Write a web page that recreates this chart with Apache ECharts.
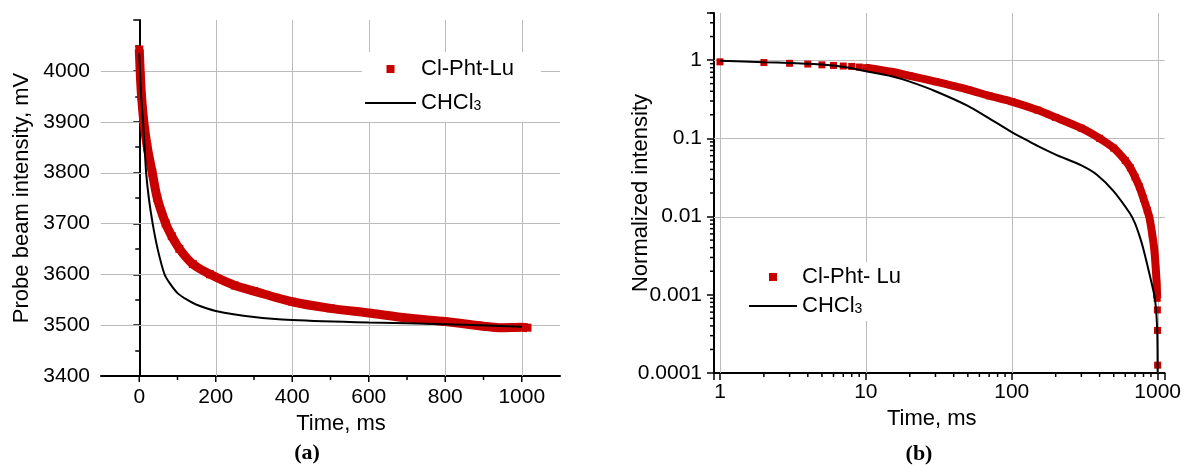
<!DOCTYPE html>
<html><head><meta charset="utf-8">
<script src="https://cdn.jsdelivr.net/npm/echarts@6/dist/echarts.min.js"></script>
<style>html,body{margin:0;padding:0;background:#fff}#c{width:1184px;height:465px}</style>
</head><body><div id="c"></div><script>
// ---------- Panel (a): probe beam intensity (linear axes) ----------
const timeRedA = [0, 3, 6, 12, 21, 34, 47, 69, 85, 105, 140, 185, 250, 300, 400, 500, 600, 700, 800, 900, 940, 1000, 1015];
const intensityRedA = [4042, 3990, 3950, 3900, 3850, 3800, 3750, 3700, 3675, 3650, 3620, 3600, 3578, 3567, 3546, 3533, 3524, 3514, 3507, 3498, 3495, 3496, 3495];
const timeBlackA = [0, 2, 5, 10, 14, 18, 25, 35, 48, 66, 80, 100, 125, 150, 200, 300, 400, 600, 800, 1000];
const intensityBlackA = [4035, 4000, 3950, 3900, 3850, 3800, 3750, 3700, 3650, 3600, 3582, 3563, 3550, 3540, 3528, 3516, 3510, 3505, 3502, 3497];
const gridXA = [200, 400, 600, 800, 1000];
const gridYA = [3500, 3600, 3700, 3800, 3900, 4000];
const majorTicksXA = [0, 200, 400, 600, 800, 1000];
const minorTicksXA = [100, 300, 500, 700, 900];

// ---------- Panel (b): normalized intensity (log-log axes) ----------
const timeRedBDots = [1, 2, 3, 4, 5, 6, 7, 8, 9];
const normRedBDots = [0.95, 0.93, 0.91, 0.89, 0.87, 0.855, 0.84, 0.83, 0.815];
const timeRedB = [10, 15, 20, 30, 50, 70, 100, 150, 200, 300, 400, 500, 600, 650, 700, 750, 800, 850, 880, 920, 950, 970, 985, 993];
const normRedB = [0.80, 0.71, 0.63, 0.53, 0.42, 0.35, 0.295, 0.23, 0.185, 0.135, 0.10, 0.075, 0.052, 0.042, 0.032, 0.024, 0.017, 0.012, 0.0095, 0.0058, 0.0037, 0.0022, 0.0014, 0.0009];
const timeRedBTail = [996, 998, 1000];
const normRedBTail = [0.00064, 0.00035, 0.000126];
const timeBlackB = [1, 2, 3, 5, 7, 10, 15, 20, 30, 50, 70, 100, 120, 150, 200, 300, 385, 500, 645, 700, 755, 800, 910, 960, 993, 1000];
const normBlackB = [0.98, 0.94, 0.92, 0.88, 0.82, 0.72, 0.62, 0.53, 0.40, 0.26, 0.18, 0.12, 0.10, 0.08, 0.062, 0.045, 0.034, 0.021, 0.011, 0.0082, 0.0055, 0.0038, 0.0014, 0.00087, 0.00035, 0.0001];
const gridXB = [1, 10, 100, 1000];
const gridYB = [0.01, 0.1, 1];
const minorTicksXB = [2, 3, 4, 5, 6, 7, 8, 9, 20, 30, 40, 50, 60, 70, 80, 90, 200, 300, 400, 500, 600, 700, 800, 900];
const minorTicksYB = [0.0002, 0.0003, 0.0004, 0.0005, 0.0006, 0.0007, 0.0008, 0.0009,
  0.002, 0.003, 0.004, 0.005, 0.006, 0.007, 0.008, 0.009,
  0.02, 0.03, 0.04, 0.05, 0.06, 0.07, 0.08, 0.09,
  0.2, 0.3, 0.4, 0.5, 0.6, 0.7, 0.8, 0.9, 2, 3, 4];

const A_X = [-100, 1100], A_Y = [3400, 4100];
const B_X = [0.91, 1116], B_Y = [0.0001, 4];

const FONT = '"Liberation Sans", Arial, sans-serif';
const RED = '#c80000';
const GRID_COLOR = '#bcbcbc';
const SQ = 'path://M0,0L10,0L10,10L0,10Z';
const BAR = 'path://M0,0L100,0L100,4L0,4Z';

const zip = (a, b) => a.map((v, i) => [v, b[i]]);

function segSeries(idx, data, fn, z) {
  return {
    type: 'custom', xAxisIndex: idx, yAxisIndex: idx, silent: true, z: z, clip: false,
    data: data,
    renderItem: function (params, api) {
      const s = fn(api);
      return { type: 'line', shape: { x1: s[0], y1: s[1], x2: s[2], y2: s[3] },
        style: { stroke: s[4], lineWidth: s[5] } };
    }
  };
}
const vGrid = (idx, xs, yr) => segSeries(idx, xs.map(v => [v, yr[0]]), api => {
  const a = api.coord([api.value(0), yr[0]]), b = api.coord([api.value(0), yr[1]]);
  const x = Math.round(a[0]) + 0.5;
  return [x, a[1], x, b[1], GRID_COLOR, 1];
}, 1);
const hGrid = (idx, ys, xr) => segSeries(idx, ys.map(v => [xr[0], v]), api => {
  const a = api.coord([xr[0], api.value(1)]), b = api.coord([xr[1], api.value(1)]);
  const y = Math.round(a[1]) + 0.5;
  return [a[0], y, b[0], y, GRID_COLOR, 1];
}, 1);
const xTicks = (idx, xs, y0, len) => segSeries(idx, xs.map(v => [v, y0]), api => {
  const a = api.coord([api.value(0), y0]);
  return [a[0], a[1], a[0], a[1] + len, '#000', 1.5];
}, 6);
const yTicks = (idx, ys, x0, len) => segSeries(idx, ys.map(v => [x0, v]), api => {
  const a = api.coord([x0, api.value(1)]);
  return [a[0], a[1], a[0] - len, a[1], '#000', 1.5];
}, 6);

function decadeFmt(v) {
  const l = Math.log10(v);
  if (Math.abs(l - Math.round(l)) > 1e-6) return '';
  return String(parseFloat(Math.pow(10, Math.round(l)).toPrecision(3)));
}

const axisBase = {
  axisLine: { lineStyle: { color: '#000', width: 2 } },
  splitLine: { show: false },
  nameLocation: 'middle',
};
const labelStyle = { color: '#000', fontSize: 21, fontFamily: FONT };
const nameStyle = { color: '#000', fontSize: 22, fontFamily: FONT };

const legendText = {
  color: '#000', fontSize: 22, fontFamily: FONT, lineHeight: 20,
  rich: { sub: { fontSize: 14, lineHeight: 2, verticalAlign: 'bottom', fontFamily: FONT, color: '#000' } }
};
const legendFmt = name => name === 'CHCl3' ? 'CHCl{sub|3}' : name;

const option = {
  animation: false,
  backgroundColor: '#fff',
  grid: [
    { left: 101, top: 20, width: 459, height: 356 },
    { left: 714, top: 13, width: 454, height: 360 }
  ],
  xAxis: [
    Object.assign({}, axisBase, {
      type: 'value', gridIndex: 0, min: A_X[0], max: A_X[1], interval: 100,
      axisTick: { show: false },
      axisLabel: Object.assign({}, labelStyle, { margin: 11,
        formatter: v => (v >= 0 && v <= 1000 && v % 200 === 0) ? String(v) : '' }),
      name: 'Time, ms', nameGap: 37,
      nameTextStyle: Object.assign({}, nameStyle, { padding: [0, 0, 0, 21] })
    }),
    Object.assign({}, axisBase, {
      type: 'log', logBase: 10, gridIndex: 1, min: B_X[0], max: B_X[1],
      axisTick: { length: 7, lineStyle: { color: '#000', width: 1.5 } },
      axisLabel: Object.assign({}, labelStyle, { margin: 9, formatter: decadeFmt }),
      name: 'Time, ms', nameGap: 30,
      nameTextStyle: Object.assign({}, nameStyle, { padding: [0, 15, 0, 0] })
    })
  ],
  yAxis: [
    Object.assign({}, axisBase, {
      type: 'value', gridIndex: 0, min: A_Y[0], max: A_Y[1], interval: 100,
      axisTick: { length: 6, lineStyle: { color: '#000', width: 1.5 } },
      minorTick: { show: true, splitNumber: 2, length: 4, lineStyle: { color: '#000', width: 1.5 } },
      axisLabel: Object.assign({}, labelStyle, { margin: 11, formatter: v => v === 4100 ? '' : String(v) }),
      name: 'Probe beam intensity, mV', nameGap: 68, nameRotate: 90, nameMoveOverlap: false,
      nameTextStyle: nameStyle
    }),
    Object.assign({}, axisBase, {
      type: 'log', logBase: 10, gridIndex: 1, min: B_Y[0], max: B_Y[1],
      axisTick: { length: 7, lineStyle: { color: '#000', width: 1.5 } },
      axisLabel: Object.assign({}, labelStyle, { margin: 12, formatter: decadeFmt }),
      name: 'Normalized intensity', nameGap: 62, nameRotate: 90, nameMoveOverlap: false,
      nameTextStyle: nameStyle
    })
  ],
  legend: [
    { left: 362, top: 52, orient: 'vertical', itemWidth: 51, itemHeight: 8, itemGap: 12,
      padding: [6, 27, 8, 3], backgroundColor: '#fff', selectedMode: false,
      textStyle: legendText, formatter: legendFmt,
      data: [{ name: 'Cl-Pht-Lu', icon: SQ }, { name: 'CHCl3', icon: BAR }] },
    { left: 745, top: 262, orient: 'vertical', itemWidth: 48, itemHeight: 8, itemGap: 7,
      padding: [4, 10, 4, 4], backgroundColor: '#fff', selectedMode: false,
      textStyle: legendText, formatter: legendFmt,
      data: [{ name: 'Cl-Pht- Lu', icon: SQ }, { name: 'CHCl3', icon: BAR }] }
  ],
  graphic: [
    { type: 'text', x: 307, y: 453, style: { text: '(a)', font: 'bold 22px "Liberation Serif", "Times New Roman", serif', fill: '#000', align: 'center', verticalAlign: 'middle' } },
    { type: 'text', x: 919, y: 454, style: { text: '(b)', font: 'bold 22px "Liberation Serif", "Times New Roman", serif', fill: '#000', align: 'center', verticalAlign: 'middle' } }
  ],
  series: [
    vGrid(0, gridXA, A_Y),
    hGrid(0, gridYA, A_X),
    xTicks(0, majorTicksXA, A_Y[0], 6),
    xTicks(0, minorTicksXA, A_Y[0], 4),
    { name: 'Cl-Pht-Lu', type: 'line', xAxisIndex: 0, yAxisIndex: 0, z: 3,
      data: zip(timeRedA, intensityRedA), smooth: 0.25,
      symbol: 'rect', symbolSize: 8, showSymbol: true,
      itemStyle: { color: RED, opacity: 1 }, lineStyle: { color: RED, width: 9 } },
    { name: 'CHCl3', type: 'line', xAxisIndex: 0, yAxisIndex: 0, z: 4,
      data: zip(timeBlackA, intensityBlackA), smooth: 0.25, symbol: 'none',
      itemStyle: { color: '#000' }, lineStyle: { color: '#000', width: 2 } },

    vGrid(1, gridXB, B_Y),
    hGrid(1, gridYB, B_X),
    xTicks(1, minorTicksXB, B_Y[0], 4),
    yTicks(1, minorTicksYB, B_X[0], 4),
    { name: 'Cl-Pht- Lu', type: 'scatter', xAxisIndex: 1, yAxisIndex: 1, z: 3,
      data: zip(timeRedBDots, normRedBDots), symbol: 'rect', symbolSize: 7,
      itemStyle: { color: RED, opacity: 1 } },
    { name: 'Cl-Pht- Lu', type: 'line', xAxisIndex: 1, yAxisIndex: 1, z: 3,
      data: zip(timeRedB, normRedB), smooth: 0.25,
      symbol: 'rect', symbolSize: 7, showSymbol: true,
      itemStyle: { color: RED, opacity: 1 }, lineStyle: { color: RED, width: 8 } },
    { name: 'Cl-Pht- Lu', type: 'scatter', xAxisIndex: 1, yAxisIndex: 1, z: 3,
      data: zip(timeRedBTail, normRedBTail), symbol: 'rect', symbolSize: 7,
      itemStyle: { color: RED, opacity: 1 } },
    { name: 'CHCl3', type: 'line', xAxisIndex: 1, yAxisIndex: 1, z: 4,
      data: zip(timeBlackB, normBlackB), smooth: 0.25, symbol: 'none',
      itemStyle: { color: '#000' }, lineStyle: { color: '#000', width: 2 } }
  ]
};
const chart = echarts.init(document.getElementById('c'));
chart.setOption(option);
</script></body></html>
